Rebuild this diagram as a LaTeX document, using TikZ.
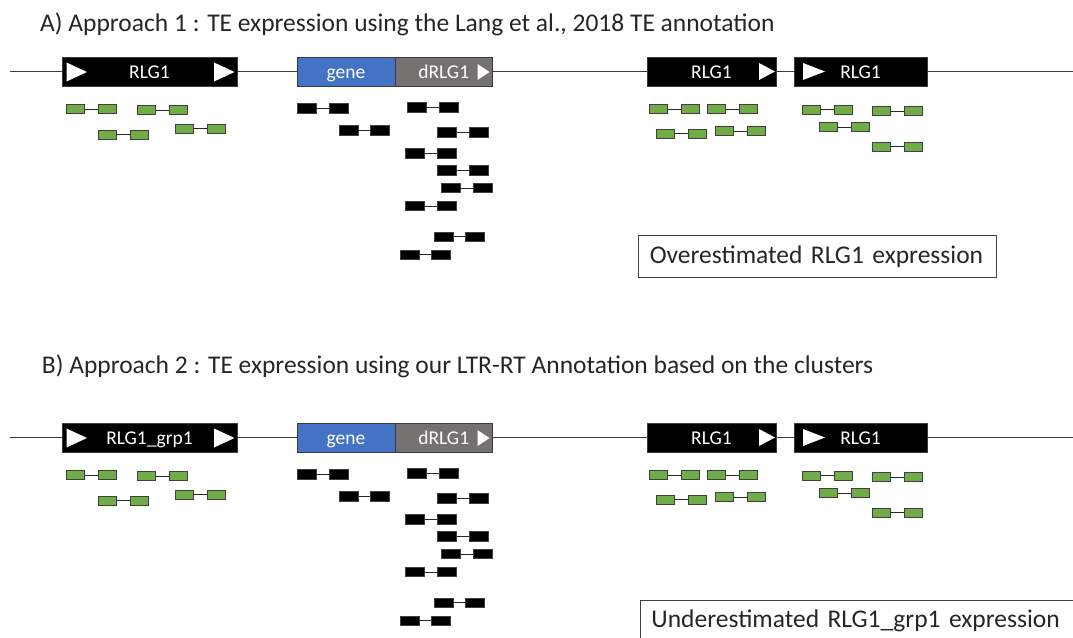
\documentclass[tikz,border=0pt]{standalone}
\usepackage{fontspec}
\setmainfont{Carlito}
\definecolor{genblue}{HTML}{4472C4}
\definecolor{relicgray}{HTML}{767171}
\definecolor{readgreen}{HTML}{70AD47}
\definecolor{edgegray}{HTML}{3A3A3A}
\tikzset{
  chrom/.style={draw=edgegray, line width=1.2pt},
  tebox/.style={draw=edgegray, fill=black, text=white, line width=0.8pt,
    minimum height=29pt, inner sep=0pt, text height=13pt, text depth=0pt,
    font=\fontsize{19.5}{21}\selectfont},
  genebox/.style={tebox, fill=genblue},
  relicbox/.style={tebox, fill=relicgray},
  greenread/.style={draw=black!75, fill=readgreen, line width=0.8pt,
    minimum width=18pt, minimum height=9pt, inner sep=0pt},
  blackread/.style={draw=black!75, fill=black, line width=0.8pt,
    minimum width=19pt, minimum height=9.5pt, inner sep=0pt},
  readlink/.style={draw=black!85, line width=0.9pt},
  title/.style={anchor=base west, inner sep=0pt, text=black!85,
    font=\fontsize{25.5}{27}\selectfont},
  notebox/.style={draw=black!75, line width=0.9pt, anchor=north west,
    align=left, inner xsep=11pt, inner ysep=0pt, minimum height=41.7pt,
    text=black!85, font=\fontsize{25.5}{27}\selectfont},
  arrowhead/.style={fill=white}
}
% paired-end read: two mates joined by a thin line
% #1 name, #2 left x, #3 centre y, #4 style, #5 distance between mate centres
\newcommand\pairread[5]{%
  \node[#4] (#1l) at (#2+9.25, #3) {};
  \node[#4] (#1r) at (#2+9.25+#5, #3) {};
  \draw[readlink] (#1l) -- (#1r);
}
% one locus with its TE copies, the gene and the mapped reads
% #1 name prefix, #2 vertical offset, #3 label of the first TE
\newcommand\locus[3]{%
  \begin{scope}[yshift=-#2pt]
    \node[tebox, minimum width=175pt] (#1te1) at (149.5,71.5) {#3};
    \node[genebox, minimum width=98pt] (#1gene) at (346,71.5) {gene};
    \node[relicbox, minimum width=97.5pt] (#1dr) at (443.75,71.5) {dRLG1};
    \node[tebox, minimum width=129pt] (#1te3) at (711.5,71.5) {RLG1};
    \node[tebox, minimum width=133pt] (#1te4) at (860.5,71.5) {RLG1};
    \coordinate (#1w) at (10,71.5);
    \coordinate (#1e) at (1073,71.5);
    \draw[chrom] (#1w) -- (#1te1.west) (#1te1.east) -- (#1gene.west)
      (#1dr.east) -- (#1te3.west) (#1te3.east) -- (#1te4.west)
      (#1te4.east) -- (#1e);
    % orientation marks
    \fill[arrowhead] (66.5,62.5) -- (87,72) -- (66.5,81.5) -- cycle;
    \fill[arrowhead] (214,62.5) -- (234.5,72) -- (214,81.5) -- cycle;
    \fill[arrowhead] (477.5,64) -- (489.5,72) -- (477.5,80) -- cycle;
    \fill[arrowhead] (759,63) -- (775,71.5) -- (759,80) -- cycle;
    \fill[arrowhead] (803,63) -- (825,71.5) -- (803,80) -- cycle;
    % reads on the full-length copies
    \pairread{#1g1}{66.5}{109}{greenread}{32}
    \pairread{#1g2}{137}{110}{greenread}{32}
    \pairread{#1g3}{98}{134.5}{greenread}{32}
    \pairread{#1g4}{175}{128.5}{greenread}{32}
    \pairread{#1g5}{649.5}{109}{greenread}{32}
    \pairread{#1g6}{707}{109}{greenread}{32}
    \pairread{#1g7}{656.5}{133.5}{greenread}{32}
    \pairread{#1g8}{715}{131}{greenread}{32}
    \pairread{#1g9}{802}{109.5}{greenread}{32}
    \pairread{#1g10}{872.5}{111}{greenread}{32}
    \pairread{#1g11}{819.5}{127}{greenread}{32}
    \pairread{#1g12}{872.5}{146.5}{greenread}{32}
    % reads on the gene and the degenerated copy
    \pairread{#1b1}{297.3}{108.5}{blackread}{32}
    \pairread{#1b2}{339.3}{130.5}{blackread}{31}
    \pairread{#1c1}{408}{107.5}{blackread}{32}
    \pairread{#1c2}{437.7}{132.5}{blackread}{32}
    \pairread{#1c3}{405.3}{153.5}{blackread}{32}
    \pairread{#1c4}{437.3}{170.5}{blackread}{32}
    \pairread{#1c5}{441.3}{188}{blackread}{32}
    \pairread{#1c6}{405.3}{206}{blackread}{32}
    \pairread{#1c7}{435}{236.8}{blackread}{31}
    \pairread{#1c8}{400.3}{254.8}{blackread}{31}
  \end{scope}
}
\begin{document}
\begin{tikzpicture}[x=1pt,y=-1pt]
  \useasboundingbox (0,0) rectangle (1073,637);
  \clip (0,0) rectangle (1073,637);
  \node[title] (ta) at (40,31)
    {A) Approach 1 : TE expression using the Lang et al., 2018 TE annotation};
  \locus{a}{0}{RLG1}
  \node[notebox, text width=335.7pt] (na) at (638.3,235)
    {Overestimated RLG1 expression};
  \node[title] (tb) at (41.7,373.3)
    {B) Approach 2 : TE expression using our LTR-RT Annotation based on the clusters};
  \locus{b}{366}{RLG1\_grp1}
  \node[notebox, text width=420pt] (nb) at (640,600)
    {Underestimated RLG1\_grp1 expression};
\end{tikzpicture}
\end{document}
